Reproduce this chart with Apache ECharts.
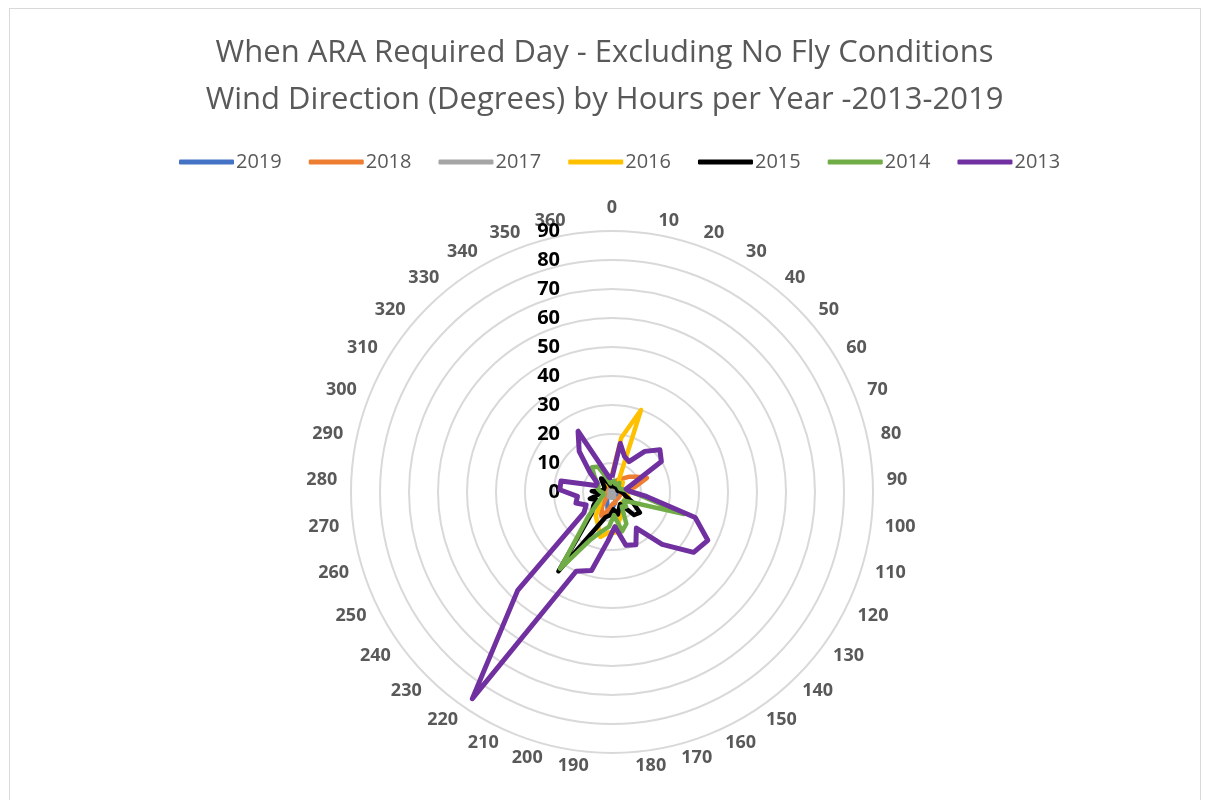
<!DOCTYPE html>
<html>
<head>
<meta charset="utf-8">
<title>Wind Direction by Hours per Year</title>
<script src="https://cdn.jsdelivr.net/npm/echarts@6/dist/echarts.min.js"></script>
<style>
  html, body { margin: 0; padding: 0; background: #fff; }
  #frame { position: absolute; left: 9px; top: 8px; width: 1190px; height: 800px; border: 1px solid #d9d9d9; border-bottom: none; }
  #chart { position: absolute; left: 0; top: 0; width: 1209px; height: 800px; }
</style>
</head>
<body>
<div id="frame"></div>
<div id="chart"></div>
<script>
// wind direction categories (degrees)
const directions = ['0', '10', '20', '30', '40', '50', '60', '70', '80', '90', '100', '110', '120',
  '130', '140', '150', '160', '170', '180', '190', '200', '210', '220', '230', '240', '250',
  '260', '270', '280', '290', '300', '310', '320', '330', '340', '350', '360']
const radialTicks = [0, 10, 20, 30, 40, 50, 60, 70, 80, 90]
const years = ['2019', '2018', '2017', '2016', '2015', '2014', '2013']
const yearColors = ['#4472C4', '#ED7D31', '#A5A5A5', '#FFC000', '#000000', '#70AD47', '#7030A0']

// hours per year
const hours2019 = [1, 1, 1, 1, 1, 1, 2, 2, 1, 1, 1, 1, 2, 2, 2, 2, 3, 4, 5, 6, 6, 4, 3, 2, 1, 1, 1, 1, 1, 1, 1, 1, 1, 1, 1, 1, 1]
const hours2018 = [2, 3, 4, 5, 6, 8, 10, 13, 8, 4, 3, 3, 3, 3, 3, 3, 3, 4, 4, 5, 7, 9, 6, 3, 2, 2, 2, 2, 2, 2, 2, 2, 2, 2, 2, 2, 2]
const hours2017 = [1, 1, 1, 1, 1, 1, 1, 1, 1, 1, 1, 1, 1, 1, 1, 1, 2, 2, 2, 2, 2, 2, 2, 1, 1, 1, 1, 1, 1, 1, 1, 1, 1, 1, 1, 1, 1]
const hours2016 = [6, 19, 30, 5, 4, 5, 4, 3, 4, 4, 5, 6, 5, 6, 5, 6, 8, 10, 14, 14, 16, 12, 10, 6, 5, 4, 3, 3, 3, 3, 3, 3, 3, 4, 4, 4, 5]
const hours2015 = [2, 2, 2, 2, 2, 2, 2, 2, 2, 3, 4, 5, 8, 12, 11, 5, 6, 8, 6, 8, 9, 14, 33, 10, 8, 6, 8, 4, 7, 3, 3, 3, 4, 6, 5, 3, 2]
const hours2014 = [3, 4, 3, 3, 4, 3, 3, 3, 4, 6, 10, 26, 8, 5, 7, 6, 12, 14, 8, 12, 14, 18, 32, 12, 6, 4, 3, 3, 4, 5, 5, 6, 8, 11, 10, 5, 3]
const hours2013 = [5, 17, 13, 12, 18, 22, 20, 8, 5, 6, 12, 30, 37, 35, 25, 15, 20, 19, 12, 17, 28, 30, 86, 47, 12, 10, 13, 12, 18, 18, 6, 6, 10, 18, 24, 8, 5]

const seriesValues = [hours2019, hours2018, hours2017, hours2016, hours2015, hours2014, hours2013]

// echarts radar runs counter-clockwise, Excel runs clockwise:
// keep the first axis at the top and reverse the rest
const clockwise = arr => [arr[0]].concat(arr.slice(1).reverse())

const chart = echarts.init(document.getElementById('chart'), null, { renderer: 'canvas' })

const option = {
  animation: false,
  textStyle: { fontFamily: 'Open Sans' },
  title: {
    text: 'When ARA Required Day - Excluding No Fly Conditions\nWind Direction (Degrees) by Hours per Year -2013-2019',
    left: 'center',
    top: 25,
    textStyle: { fontSize: 31, fontWeight: 'normal', color: '#595959', lineHeight: 47, fontFamily: 'Open Sans' }
  },
  legend: {
    top: 147,
    left: 174,
    itemWidth: 55,
    itemHeight: 5,
    itemGap: 27,
    icon: 'roundRect',
    textStyle: { fontSize: 20, color: '#595959', padding: [0, 0, 0, -3] },
    data: years
  },
  radar: {
    center: [612, 492],
    radius: 261,
    shape: 'circle',
    splitNumber: 9,
    startAngle: 90,
    indicator: clockwise(directions).map(d => ({ name: d, max: 90, min: 0 })),
    axisName: { color: '#595959', fontSize: 18, fontWeight: 'bold' },
    nameGap: 14,
    axisLine: { show: false },
    axisTick: { show: false },
    splitArea: { show: false },
    splitLine: { lineStyle: { color: '#d9d9d9', width: 2 } }
  },
  // only used to draw the 0..90 tick labels on the vertical axis
  polar: { center: [612, 492], radius: 261 },
  angleAxis: { show: false, type: 'value', min: 0, max: 360 },
  radiusAxis: {
    type: 'value', min: 0, max: 90, interval: 10,
    data: radialTicks,
    axisLine: { show: false },
    axisTick: { show: false },
    splitLine: { show: false },
    axisLabel: { color: '#000', fontSize: 20, fontWeight: 'bold', margin: 52 }
  },
  series: years.map((y, i) => ({
    name: y,
    type: 'radar',
    symbol: 'none',
    color: yearColors[i],
    lineStyle: { width: i === 6 ? 5 : 4.5, color: yearColors[i], join: 'round' },
    data: [{ name: y, value: clockwise(seriesValues[i]) }]
  }))
}

chart.setOption(option)
</script>
</body>
</html>
